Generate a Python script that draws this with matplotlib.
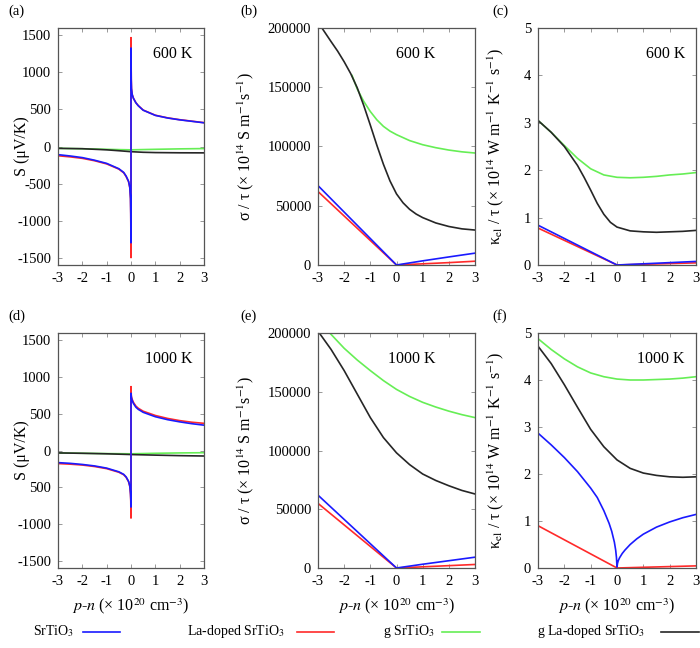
import numpy as np
import matplotlib.pyplot as plt
from matplotlib.lines import Line2D

plt.rcParams['font.family'] = ['Liberation Serif', 'DejaVu Serif']
plt.rcParams['mathtext.fontset'] = 'stix'
plt.rcParams['axes.unicode_minus'] = False

BLUE = '#1a1aff'
RED = '#ff2a2a'
GREEN = '#66ee55'
BLACK = '#262626'

# ---- Seebeck, 600 K
s600_blue_x = [-3, -2.5, -2, -1.5, -1, -0.5, -0.3, -0.2, -0.1, -0.05, -0.02, -0.01, 0, 0,
               0.01, 0.02, 0.05, 0.1, 0.2, 0.3, 0.5, 1, 1.5, 2, 2.5, 3]
s600_blue_y = [-110, -128, -150, -185, -228, -300, -350, -400, -470, -550, -700, -900, -1300, 1330,
               900, 780, 700, 650, 590, 550, 490, 420, 385, 360, 340, 320]
s600_red_x = [-3, -2.5, -2, -1.5, -1, -0.5, -0.3, -0.2, -0.1, -0.05, -0.02, -0.01, 0, 0,
              0.01, 0.02, 0.05, 0.1, 0.2, 0.3, 0.5, 1, 1.5, 2, 2.5, 3]
s600_red_y = [-125, -140, -160, -192, -235, -305, -355, -405, -475, -555, -710, -920, -1500, 1470,
              910, 785, 702, 652, 592, 552, 492, 422, 387, 362, 342, 322]
s600_green_x = [-3, -2, -1, -0.5, 0, 1, 2, 3]
s600_green_y = [-25, -30, -38, -42, -45, -38, -32, -28]
s600_black_x = [-3, -2, -1, -0.5, 0, 0.5, 1, 2, 3]
s600_black_y = [-25, -30, -45, -57, -70, -78, -82, -85, -86]

# ---- Seebeck, 1000 K
s1000_blue_x = [-3, -2.5, -2, -1.5, -1, -0.5, -0.3, -0.2, -0.1, -0.05, -0.02, -0.01, 0, 0,
                0.01, 0.02, 0.05, 0.1, 0.2, 0.3, 0.5, 1, 1.5, 2, 2.5, 3]
s1000_blue_y = [-165, -175, -190, -210, -240, -290, -325, -360, -420, -480, -580, -650, -770, 780,
                740, 715, 680, 640, 590, 560, 520, 460, 420, 390, 365, 345]
s1000_red_x = [-3, -2.5, -2, -1.5, -1, -0.5, -0.3, -0.2, -0.1, -0.05, -0.02, -0.01, 0, 0,
               0.01, 0.02, 0.05, 0.1, 0.2, 0.3, 0.5, 1, 1.5, 2, 2.5, 3]
s1000_red_y = [-178, -186, -198, -218, -247, -296, -330, -365, -425, -490, -600, -680, -920, 870,
               760, 730, 695, 655, 605, 575, 535, 477, 437, 407, 385, 370]
s1000_green_x = [-3, -2, -1, 0, 1, 2, 3]
s1000_green_y = [-33, -38, -42, -45, -38, -33, -30]
s1000_black_x = [-3, -2, -1, 0, 1, 2, 3]
s1000_black_y = [-33, -38, -45, -55, -63, -70, -75]

# ---- sigma/tau, 600 K
c600_blue_x = [-3, 0, 1, 2, 3]
c600_blue_y = [67000, 0, 3500, 6800, 10000]
c600_red_x = [-3, 0, 1, 2, 3]
c600_red_y = [62000, 0, 1000, 2000, 3200]
c600_green_x = [-1.7, -1.5, -1.25, -1, -0.75, -0.5, -0.25, 0, 0.5, 1, 1.5, 2, 2.5, 3]
c600_green_y = [160000, 148500, 138000, 129500, 122500, 117000, 113000, 110000, 105000, 101500, 99000, 97000, 95500, 94500]
c600_black_x = [-2.85, -2.5, -2.25, -2, -1.75, -1.5, -1.25, -1, -0.75, -0.5, -0.25, 0, 0.25, 0.5, 0.75, 1, 1.5, 2, 2.5, 3]
c600_black_y = [200000, 188500, 180500, 171500, 161500, 149500, 134500, 118000, 101000, 85000, 71000, 60000, 52500, 47000, 43000, 40000, 35500, 32500, 30500, 29500]

# ---- sigma/tau, 1000 K
c1000_blue_x = [-3, 0, 1, 2, 3]
c1000_blue_y = [62000, 0, 3200, 6200, 9200]
c1000_red_x = [-3, 0, 1, 2, 3]
c1000_red_y = [55000, 0, 1000, 2000, 3000]
c1000_green_x = [-2.55, -2, -1.5, -1, -0.5, 0, 0.5, 1, 1.5, 2, 2.5, 3]
c1000_green_y = [200000, 187000, 177000, 168000, 159500, 152000, 146000, 141000, 137000, 133500, 130500, 128000]
c1000_black_x = [-2.95, -2.5, -2, -1.5, -1, -0.5, 0, 0.5, 1, 1.5, 2, 2.5, 3]
c1000_black_y = [200000, 186000, 168000, 148000, 128000, 111000, 98000, 88000, 80000, 74500, 70000, 66000, 63000]

# ---- kappa_el/tau, 600 K
k600_blue_x = [-3, 0, 1, 2, 3]
k600_blue_y = [0.84, 0, 0.025, 0.05, 0.075]
k600_red_x = [-3, 0, 1, 2, 3]
k600_red_y = [0.78, 0, 0.015, 0.03, 0.045]
k600_green_x = [-3, -2.5, -2, -1.5, -1, -0.5, 0, 0.5, 1, 1.5, 2, 2.5, 3]
k600_green_y = [3.05, 2.8, 2.52, 2.25, 2.03, 1.9, 1.85, 1.84, 1.85, 1.87, 1.9, 1.92, 1.95]
k600_black_x = [-3, -2.5, -2, -1.5, -1.25, -1, -0.75, -0.5, -0.25, 0, 0.5, 1, 1.5, 2, 2.5, 3]
k600_black_y = [3.05, 2.8, 2.5, 2.1, 1.85, 1.58, 1.3, 1.07, 0.9, 0.8, 0.72, 0.7, 0.69, 0.7, 0.71, 0.73]

# ---- kappa_el/tau, 1000 K
k1000_blue_x = [-3, -2.5, -2, -1.5, -1, -0.75, -0.5, -0.3, -0.2, -0.1, -0.05, -0.02, 0,
                0.02, 0.05, 0.1, 0.2, 0.3, 0.5, 0.75, 1, 1.5, 2, 2.5, 3]
k1000_blue_y = [2.87, 2.62, 2.35, 2.05, 1.7, 1.5, 1.22, 0.95, 0.78, 0.55, 0.38, 0.22, 0.02,
                0.1, 0.16, 0.22, 0.31, 0.38, 0.5, 0.62, 0.72, 0.87, 0.98, 1.07, 1.14]
k1000_red_x = [-3, 0, 1, 2, 3]
k1000_red_y = [0.9, 0, 0.015, 0.03, 0.045]
k1000_green_x = [-3, -2.5, -2, -1.5, -1, -0.5, 0, 0.5, 1, 1.5, 2, 2.5, 3]
k1000_green_y = [4.88, 4.65, 4.45, 4.28, 4.15, 4.07, 4.02, 4.0, 4.0, 4.01, 4.02, 4.04, 4.07]
k1000_black_x = [-3, -2.5, -2, -1.5, -1, -0.5, 0, 0.5, 1, 1.5, 2, 2.5, 3]
k1000_black_y = [4.72, 4.35, 3.9, 3.42, 2.95, 2.58, 2.3, 2.12, 2.02, 1.97, 1.94, 1.93, 1.94]

xticks = [-3, -2, -1, 0, 1, 2, 3]
s_ticks = [-1500, -1000, -500, 0, 500, 1000, 1500]
s_labels_600 = ['-1500', '-1000', '-500', '0', '500', '1000', '1500']
s_labels_1000 = ['-1500', '-1000', '500', '0', '500', '1000', '1500']
c_ticks = [0, 50000, 100000, 150000, 200000]
k_ticks = [0, 1, 2, 3, 4, 5]

legend_names = ['SrTiO$_3$', 'La-doped SrTiO$_3$', 'g SrTiO$_3$', 'g La-doped SrTiO$_3$']
colors = [BLUE, RED, GREEN, BLACK]

W, H = 700, 648
fig = plt.figure(figsize=(7, 6.48), dpi=100)


def px_axes(l, t, r, b):
    return fig.add_axes([l / W, 1 - b / H, (r - l) / W, (b - t) / H])


def style(ax):
    for sp in ax.spines.values():
        sp.set_color('#555555')
        sp.set_linewidth(0.9)
    ax.tick_params(direction='in', top=True, right=True, length=3, width=0.6,
                   color='#888888', labelsize=10.5, pad=5)
    ax.set_xlim(-3, 3)
    ax.set_xticks(xticks)


def draw(ax, series):
    # draw order: green, black, red, blue (blue on top)
    for (x, y, c) in series:
        ax.plot(x, y, color=c, lw=1.2)


rows = [
    (28, 265, '600 K',
     [(s600_green_x, s600_green_y, GREEN), (s600_black_x, s600_black_y, BLACK),
      (s600_red_x, s600_red_y, RED), (s600_blue_x, s600_blue_y, BLUE)],
     [(c600_green_x, c600_green_y, GREEN), (c600_black_x, c600_black_y, BLACK),
      (c600_red_x, c600_red_y, RED), (c600_blue_x, c600_blue_y, BLUE)],
     [(k600_green_x, k600_green_y, GREEN), (k600_black_x, k600_black_y, BLACK),
      (k600_red_x, k600_red_y, RED), (k600_blue_x, k600_blue_y, BLUE)],
     s_labels_600, ['(a)', '(b)', '(c)']),
    (333, 568, '1000 K',
     [(s1000_green_x, s1000_green_y, GREEN), (s1000_black_x, s1000_black_y, BLACK),
      (s1000_red_x, s1000_red_y, RED), (s1000_blue_x, s1000_blue_y, BLUE)],
     [(c1000_green_x, c1000_green_y, GREEN), (c1000_black_x, c1000_black_y, BLACK),
      (c1000_red_x, c1000_red_y, RED), (c1000_blue_x, c1000_blue_y, BLUE)],
     [(k1000_green_x, k1000_green_y, GREEN), (k1000_black_x, k1000_black_y, BLACK),
      (k1000_red_x, k1000_red_y, RED), (k1000_blue_x, k1000_blue_y, BLUE)],
     s_labels_1000, ['(d)', '(e)', '(f)']),
]

for i, (top, bot, temp, s_ser, c_ser, k_ser, s_lab, tags) in enumerate(rows):
    axS = px_axes(58, top, 204, bot)
    axC = px_axes(318, top, 475, bot)
    axK = px_axes(538, top, 696, bot)
    for ax in (axS, axC, axK):
        style(ax)

    draw(axS, s_ser)
    axS.set_ylim(-1600, 1600)
    axS.set_yticks(s_ticks)
    axS.set_yticklabels(s_lab)
    axS.set_ylabel('S (μV/K)', fontsize=11.5)
    axS.yaxis.set_label_coords(-28 / 146, 0.5)
    axS.text(0.92, 0.89, temp, transform=axS.transAxes, ha='right', va='center', fontsize=11.5)

    draw(axC, c_ser)
    axC.set_ylim(0, 200000)
    axC.set_yticks(c_ticks)
    axC.set_ylabel(r'σ / τ (× 10$^{14}$ S m$^{-1}$s$^{-1}$)', fontsize=11.5)
    axC.yaxis.set_label_coords(-62 / 157, 0.5)
    axC.text(0.75, 0.89, temp, transform=axC.transAxes, ha='right', va='center', fontsize=11.5)

    draw(axK, k_ser)
    axK.set_ylim(0, 5)
    axK.set_yticks(k_ticks)
    axK.set_ylabel(r'κ$_{\rm el}$ / τ (× 10$^{14}$ W m$^{-1}$ K$^{-1}$ s$^{-1}$)', fontsize=11.5)
    axK.yaxis.set_label_coords(-32 / 158, 0.5)
    axK.text(0.93, 0.89, temp, transform=axK.transAxes, ha='right', va='center', fontsize=11.5)

    if i == 1:
        for ax in (axS, axC, axK):
            ax.set_xlabel(r'$p$-$n$ (× 10$^{20}$ cm$^{-3}$)', fontsize=11.5, labelpad=6)

    tag_x = [8, 240, 492]
    tag_y = top - 17
    for tx, tag in zip(tag_x, tags):
        fig.text(tx / W, 1 - tag_y / H, tag, fontsize=10.5, va='center')

# legend row
leg_text_x = [33, 187, 383, 537]
leg_line_x = [(83, 120), (297, 334), (442, 480), (661, 699)]
ly = 631
for name, c, tx, (l0, l1) in zip(legend_names, colors, leg_text_x, leg_line_x):
    fig.text(tx / W, 1 - ly / H, name, fontsize=10, va='center')
    fig.add_artist(Line2D([l0 / W, l1 / W], [1 - (ly + 1) / H, 1 - (ly + 1) / H],
                          transform=fig.transFigure, color=c, lw=1.2))

fig.savefig('out.png', dpi=100)
